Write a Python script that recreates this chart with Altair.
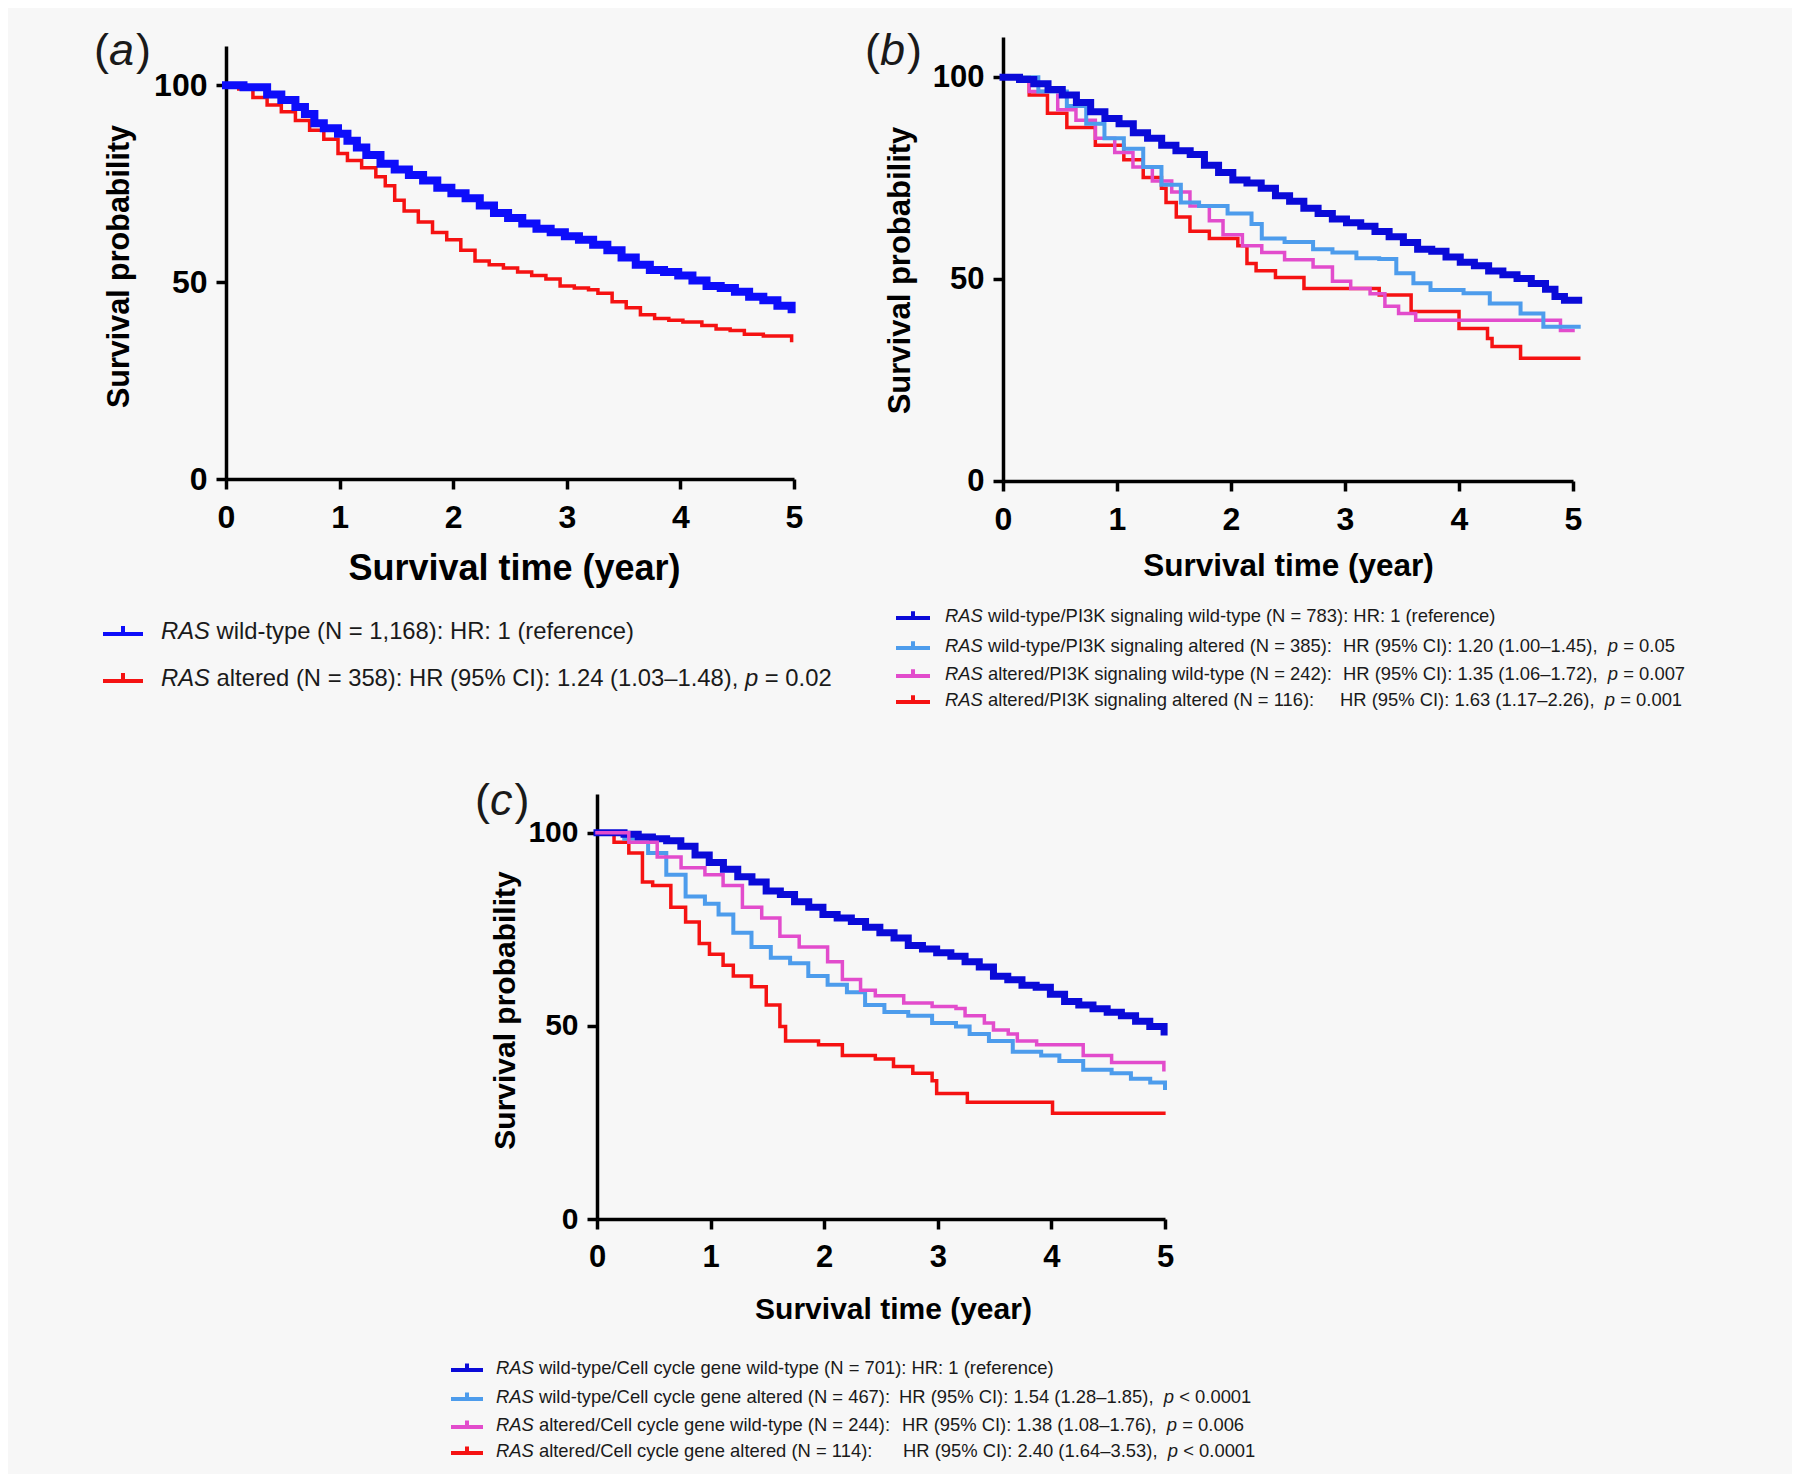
import altair as alt
import pandas as pd

# ---------------- data ----------------
X_TICKS = [0, 1, 2, 3, 4, 5]
Y_TICKS = [0, 50, 100]

# Panel (a)
A_WT_T = [0, 0.154, 0.362, 0.487, 0.611, 0.695, 0.778, 0.861, 0.986, 1.069, 1.152, 1.235, 1.36, 1.485, 1.61, 1.735,
          1.86, 1.984, 2.109, 2.234, 2.359, 2.483, 2.608, 2.733, 2.858, 2.983, 3.107, 3.232, 3.357, 3.482, 3.607,
          3.731, 3.856, 3.981, 4.106, 4.23, 4.355, 4.48, 4.605, 4.73, 4.854, 4.979]
A_WT_S = [100, 99.5, 97.7, 96.3, 94.5, 92.7, 90.4, 89.1, 87.7, 85.9, 84.2, 82.3, 80.1, 78.6, 77.2, 75.8,
          74.0, 72.6, 71.3, 69.5, 67.6, 66.3, 64.9, 63.6, 62.7, 61.7, 60.8, 59.5, 58.1, 56.3, 54.4,
          53.1, 52.6, 51.7, 50.4, 49.0, 48.5, 47.6, 46.3, 45.4, 44.0, 43.1]
A_ALT_T = [0, 0.112, 0.237, 0.362, 0.487, 0.611, 0.736, 0.861, 0.986, 1.069, 1.194, 1.319, 1.402, 1.485, 1.568,
           1.693, 1.818, 1.943, 2.067, 2.192, 2.317, 2.442, 2.567, 2.691, 2.816, 2.941, 3.066, 3.191, 3.274,
           3.399, 3.523, 3.648, 3.773, 3.898, 4.022, 4.189, 4.314, 4.438, 4.563, 4.73, 4.979]
A_ALT_S = [100, 99.1, 96.9, 95.0, 93.3, 91.1, 88.6, 86.3, 82.7, 80.9, 79.1, 76.8, 74.5, 70.8, 68.1,
           65.3, 62.6, 60.8, 58.1, 55.4, 54.4, 53.6, 52.6, 51.7, 50.8, 49.0, 48.5, 48.1, 47.2,
           45.0, 43.5, 41.7, 40.8, 40.3, 39.9, 39.0, 38.1, 37.7, 36.8, 36.3, 35.2]

# Panel (b)
B_WW_T = [0, 0.145, 0.27, 0.395, 0.52, 0.644, 0.769, 0.894, 1.018, 1.143, 1.268, 1.392, 1.517, 1.642, 1.767,
          1.891, 2.016, 2.14, 2.265, 2.39, 2.514, 2.639, 2.764, 2.889, 3.013, 3.138, 3.263, 3.387, 3.512,
          3.637, 3.761, 3.886, 4.011, 4.135, 4.26, 4.385, 4.509, 4.634, 4.759, 4.842, 4.925, 5.05]
B_WW_S = [100, 99.5, 98.4, 97.0, 95.6, 93.8, 91.5, 89.8, 88.5, 86.3, 84.9, 83.2, 81.8, 80.9, 78.2,
          76.4, 74.6, 73.8, 72.5, 70.7, 69.3, 67.6, 66.3, 64.9, 64.0, 63.1, 61.8, 60.5, 59.1,
          57.4, 56.9, 55.5, 54.2, 53.3, 52.0, 51.1, 50.2, 48.9, 47.5, 45.7, 44.8, 44.8]
B_WA_T = [0, 0.31, 0.56, 0.73, 0.89, 1.06, 1.23, 1.39, 1.56, 1.72, 1.97, 2.18, 2.27, 2.47, 2.72, 2.89, 3.1, 3.3, 3.45, 3.6, 3.75, 4.04, 4.27, 4.54, 4.74, 5.05]
B_WA_S = [100, 96.5, 92.9, 88.5, 84.9, 82.3, 77.8, 73.4, 69, 68.1, 66.3, 63.7, 60.1, 59.2, 57.4, 56.6, 55.2, 55.0, 51.5, 49.0, 47.3, 46.5, 44.0, 41.5, 38.2, 38.2]
B_AW_T = [0, 0.23, 0.48, 0.64, 0.81, 0.98, 1.14, 1.31, 1.48, 1.64, 1.81, 1.93, 2.1, 2.27, 2.47, 2.72, 2.89, 3.05, 3.22, 3.35, 3.47, 3.62, 4.89, 5.0]
B_AW_S = [100, 96.5, 92, 89.4, 84.9, 81.4, 77.8, 74.3, 71.6, 68.1, 64.5, 61, 58.3, 56.6, 54.8, 53, 49.5, 47.7, 46.4, 43.3, 41.5, 39.8, 37.3, 37.3]
B_AA_T = [0, 0.23, 0.39, 0.56, 0.81, 1.06, 1.23, 1.39, 1.43, 1.52, 1.64, 1.81, 2.06, 2.14, 2.22, 2.39, 2.64, 3.3, 3.58, 4.0, 4.25, 4.29, 4.54, 5.05]
B_AA_S = [100, 95.6, 91.1, 87.6, 83.2, 79.6, 75.2, 72.5, 69, 65.4, 61.9, 60.1, 58.3, 53.9, 52.1, 50.4, 47.7, 46.1, 42.0, 37.8, 35.3, 33.3, 30.4, 30.4]

# Panel (c)
C_WW_T = [0, 0.113, 0.238, 0.363, 0.488, 0.613, 0.738, 0.863, 0.988, 1.113, 1.239, 1.364, 1.489, 1.614, 1.739,
          1.864, 1.989, 2.114, 2.239, 2.364, 2.49, 2.615, 2.74, 2.865, 2.99, 3.115, 3.24, 3.365, 3.49, 3.616,
          3.741, 3.866, 3.991, 4.116, 4.241, 4.366, 4.491, 4.616, 4.741, 4.866, 4.992]
C_WW_S = [100, 100, 99.6, 98.9, 98.4, 97.9, 96.5, 94.2, 92.3, 90.5, 88.6, 87.2, 84.9, 84.0, 82.1,
          80.7, 78.8, 77.9, 77.0, 75.5, 74.1, 72.7, 70.8, 69.9, 68.9, 68.0, 66.6, 65.2, 62.8, 61.9,
          60.5, 60.0, 58.2, 56.3, 55.4, 54.4, 53.5, 52.6, 51.2, 49.8, 48.4]
C_WA_T = [0, 0.24, 0.45, 0.61, 0.78, 0.95, 1.07, 1.2, 1.36, 1.53, 1.7, 1.86, 2.03, 2.2, 2.36, 2.53, 2.74, 2.95, 3.16, 3.28, 3.45, 3.66, 3.91, 4.07, 4.28, 4.53, 4.7, 4.87, 5.0]
C_WA_S = [100, 98.4, 94.7, 89.1, 83.5, 81.6, 78.8, 74.1, 70.4, 67.6, 66.2, 62.9, 60.6, 58.7, 55.4, 53.6, 52.6, 50.7, 49.8, 47.9, 46.1, 43.3, 42.3, 40.9, 38.6, 37.7, 36.3, 35.3, 33.9]
C_AW_T = [0, 0.28, 0.53, 0.74, 0.95, 1.11, 1.28, 1.45, 1.61, 1.78, 2.03, 2.16, 2.32, 2.45, 2.7, 2.95, 3.16, 3.24, 3.41, 3.49, 3.62, 3.7, 3.87, 4.28, 4.53, 4.99]
C_AW_S = [100, 97.5, 93.7, 90.9, 89.1, 86.3, 80.7, 77.9, 73.2, 70.4, 66.6, 62, 59.2, 57.8, 55.9, 55, 54.5, 52.6, 50.7, 48.9, 47.9, 46.1, 45.1, 42.3, 40.5, 38.6]
C_AA_T = [0, 0.15, 0.28, 0.4, 0.49, 0.65, 0.78, 0.9, 0.99, 1.11, 1.2, 1.36, 1.49, 1.61, 1.66, 1.95, 2.16, 2.45, 2.61, 2.78, 2.95, 2.99, 3.26, 4.01, 4.99]
C_AA_S = [100, 97.5, 94.7, 87.2, 86.3, 80.7, 76.9, 71.3, 68.5, 65.7, 62.9, 60.1, 55.4, 49.8, 46.1, 45.1, 42.3, 41.4, 39.5, 37.7, 35.8, 32.5, 30.2, 27.4, 27.4]

# Texts
PANEL_LETTERS = ["a", "b", "c"]
X_TITLE = "Survival time (year)"
Y_TITLE = "Survival probability"
LEG_A_COL1 = ["wild-type (N = 1,168): HR: 1 (reference)",
              "altered (N = 358): HR (95% CI): 1.24 (1.03–1.48),"]
LEG_A_P = [None, "= 0.02"]
LEG_B_COL1 = ["wild-type/PI3K signaling wild-type (N = 783): HR: 1 (reference)",
              "wild-type/PI3K signaling altered (N = 385):",
              "altered/PI3K signaling wild-type (N = 242):",
              "altered/PI3K signaling altered (N = 116):"]
LEG_B_HR = [None, "HR (95% CI): 1.20 (1.00–1.45),", "HR (95% CI): 1.35 (1.06–1.72),", "HR (95% CI): 1.63 (1.17–2.26),"]
LEG_B_P = [None, "= 0.05", "= 0.007", "= 0.001"]
LEG_C_COL1 = ["wild-type/Cell cycle gene wild-type (N = 701): HR: 1 (reference)",
              "wild-type/Cell cycle gene altered (N = 467):",
              "altered/Cell cycle gene wild-type (N = 244):",
              "altered/Cell cycle gene altered (N = 114):"]
LEG_C_HR = [None, "HR (95% CI): 1.54 (1.28–1.85),", "HR (95% CI): 1.38 (1.08–1.76),", "HR (95% CI): 2.40 (1.64–3.53),"]
LEG_C_P = [None, "< 0.0001", "= 0.006", "< 0.0001"]

# ---------------- style / layout ----------------
W, H = 1784, 1466
FONT = "Liberation Sans"
BG = "#f7f7f7"
TXT = "#1a1a1a"
BLUE_A = "#0d0dfa"
DBLUE = "#0a0ad8"
LBLUE = "#4d9cec"
MAGENTA = "#e24ccc"
RED = "#f51212"

_W = {c: 556 for c in "0123456789"}
_W.update(dict(zip("ABCDEFGHIJKLMNOPQRSTUVWXYZ",
                   [667, 667, 722, 722, 667, 611, 778, 722, 278, 500, 667, 556, 833, 722, 778, 667, 778, 722, 667, 611, 722, 667, 944, 667, 667, 611])))
_W.update(dict(zip("abcdefghijklmnopqrstuvwxyz",
                   [556, 556, 500, 556, 556, 278, 556, 556, 222, 222, 500, 222, 833, 556, 556, 556, 556, 333, 500, 278, 556, 500, 722, 500, 500, 500])))
_W.update({" ": 278, "(": 333, ")": 333, ",": 278, "-": 333, ".": 278, "/": 278, ":": 278,
           "=": 584, "<": 584, "%": 889, "–": 556})


def tw(s, size):
    return sum(_W.get(c, 556) for c in s) * size / 1000.0


_DUMMY = pd.DataFrame({"k": [0]})


def txt(x, y, s, size, italic=False, bold=False, baseline="middle", align="left", color=TXT):
    return alt.Chart(_DUMMY).mark_text(
        text=s, font=FONT, fontSize=size, fontStyle="italic" if italic else "normal",
        fontWeight="bold" if bold else "normal", baseline=baseline, align=align, color=color
    ).encode(x=alt.value(x), y=alt.value(y))


def sym(cx, cy, w, color):
    return alt.Chart(_DUMMY).mark_point(
        shape="M-1,0L1,0M0,0L0,-0.4", size=w * w, stroke=color, strokeWidth=4,
        filled=False, opacity=1
    ).encode(x=alt.value(cx), y=alt.value(cy))


def panel(curves, xr, yr, xt, yt, xlab, ylab, xtitle, ytitle):
    xscale = alt.Scale(domain=[0, 5], range=list(xr), nice=False, zero=False)
    yscale = alt.Scale(domain=[0, 110], range=list(yr), nice=False, zero=False)
    common = dict(grid=False, domainColor="black", domainWidth=3.5, tickColor="black",
                  tickWidth=3.5, tickSize=10, labelFont=FONT, labelFontWeight="bold",
                  labelColor="black", labelFlush=False, labelOverlap=False, labelBound=False,
                  titleFont=FONT, titleFontWeight="bold", titleColor="black",
                  titleAlign="center", titleBaseline="middle")
    xaxis = alt.Axis(values=X_TICKS, format="d", orient="bottom", offset=yr[0] - H,
                     labelFontSize=xlab, labelPadding=13, title=X_TITLE, titleFontSize=xtitle,
                     titleX=xt[0], titleY=xt[1], **common)
    yaxis = alt.Axis(values=Y_TICKS, format="d", orient="left", offset=-xr[0],
                     labelFontSize=ylab, labelPadding=9, title=Y_TITLE, titleFontSize=ytitle,
                     titleAngle=270, titleX=yt[0], titleY=yt[1], **common)
    layers = []
    for t, s, color, width in curves:
        df = pd.DataFrame({"t": t, "s": s})
        layers.append(
            alt.Chart(df).mark_line(interpolate="step-after", color=color, strokeWidth=width,
                                    strokeJoin="miter", strokeCap="square")
            .encode(x=alt.X("t:Q", scale=xscale, axis=xaxis),
                    y=alt.Y("s:Q", scale=yscale, axis=yaxis))
        )
    return alt.layer(*layers)


# view coordinates (page minus 8px margin)
pa = panel([(A_ALT_T, A_ALT_S, RED, 3.5), (A_WT_T, A_WT_S, BLUE_A, 8)],
           (218, 786), (471, 38), (506, 89), (-107, 258), 32, 32, 36, 30.5)
pb = panel([(B_AA_T, B_AA_S, RED, 3.5), (B_AW_T, B_AW_S, MAGENTA, 3.5),
            (B_WA_T, B_WA_S, LBLUE, 4), (B_WW_T, B_WW_S, DBLUE, 7)],
           (995, 1565), (473, 29), (1280, 85), (-103, 262), 32, 31, 31.5, 31)
pc = panel([(C_AA_T, C_AA_S, RED, 3.5), (C_WA_T, C_WA_S, LBLUE, 4),
            (C_WW_T, C_WW_S, DBLUE, 7), (C_AW_T, C_AW_S, MAGENTA, 3.5)],
           (589, 1157), (1211, 786), (885, 90), (-92, 1002), 31, 30, 30, 30)

annots = []

for letter, (x0, y0) in zip(PANEL_LETTERS, [(86, 57), (857, 57), (467, 807)]):
    sz = 45
    annots.append(txt(x0, y0, "(", sz, baseline="alphabetic"))
    annots.append(txt(x0 + tw("(", sz), y0, letter, sz, italic=True, baseline="alphabetic"))
    annots.append(txt(x0 + tw("(" + letter, sz) + 2, y0, ")", sz, baseline="alphabetic"))


def legend(rows_y, sym_x, sym_w, text_x, size, colors, col1, hrs, ps, hr_xs, pgap):
    out = []
    for i, y in enumerate(rows_y):
        out.append(sym(sym_x, y + 2, sym_w, colors[i]))
        out.append(txt(text_x, y, "RAS", size, italic=True))
        x = text_x + tw("RAS ", size)
        out.append(txt(x, y, col1[i], size))
        x += tw(col1[i], size)
        if hrs[i] is not None:
            x = hr_xs[i]
            out.append(txt(x, y, hrs[i], size))
            x += tw(hrs[i], size)
        if ps[i] is not None:
            x += tw(pgap, size)
            out.append(txt(x, y, "p", size, italic=True))
            x += tw("p ", size)
            out.append(txt(x, y, ps[i], size))
    return out


annots += legend([624, 671], 115, 40, 153, 23.8, [BLUE_A, RED], LEG_A_COL1,
                 [None, None], LEG_A_P, [None, None], " ")
annots += legend([608, 638, 666, 692], 905, 34, 937, 18.4, [DBLUE, LBLUE, MAGENTA, RED],
                 LEG_B_COL1, LEG_B_HR, LEG_B_P, [None, 1335, 1335, 1332], "  ")
annots += legend([1360, 1389, 1417, 1443], 459, 32, 488, 18.4, [DBLUE, LBLUE, MAGENTA, RED],
                 LEG_C_COL1, LEG_C_HR, LEG_C_P, [None, 891, 894, 895], "  ")

chart = (
    alt.layer(pa, pb, pc, *annots)
    .resolve_scale(x="independent", y="independent")
    .properties(width=W, height=H, background=BG, padding=0, autosize="none")
    .configure_view(stroke=None)
)

chart.save("out.html", embed_options={"renderer": "svg", "actions": False})
